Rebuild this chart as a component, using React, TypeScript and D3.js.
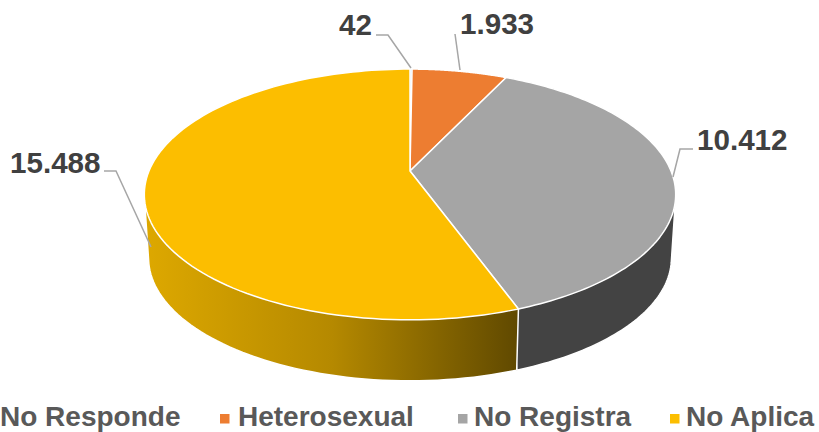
import React from 'react'
import * as d3 from 'd3'

const categories = ['No Responde', 'Heterosexual', 'No Registra', 'No Aplica']
const values = [42, 1933, 10412, 15488]
const valueLabels = ['42', '1.933', '10.412', '15.488']
const colors = ['#5B9BD5', '#ED7D31', '#A5A5A5', '#FCBE00']

const width = 819
const height = 432

// perspective view of the pie disc, fitted to the top face in the picture
const cx = 410
const cy = 171
const rx = 261
const ry = 121
const tilt = 0.187
const depth = 61
const shrink = 0.984

const project = (angle: number): [number, number] => {
  const u = Math.sin(angle)
  const v = -Math.cos(angle)
  const d = 1 - tilt * v
  return [cx + (rx * u) / d, cy + (ry * v) / d]
}

// same point on the lower rim of the disc
const lower = (angle: number): [number, number] => {
  const [x, y] = project(angle)
  return [cx + (x - cx) * shrink, y + depth + (320 - y) * 0.02]
}

const sample = (a0: number, a1: number) => d3.range(0, 121).map(i => a0 + ((a1 - a0) * i) / 120)

const line = d3.line<[number, number]>()

const pieData = d3.pie<number>().sort(null)(values)

const legendX = [-13, 220, 458, 670]
const legendTextX = [0, 238, 474, 686]

const leaders = [
  { x: 339, y: 35, pts: [[376, 35], [388, 35], [411, 68]] },
  { x: 460, y: 34, pts: [[455, 34], [460, 70]] },
  { x: 697, y: 149.5, pts: [[693, 149], [680, 149], [673, 177]] },
  { x: 10, y: 172.5, pts: [[104, 171], [116, 171], [151, 247]] },
]

export default function App() {
  return (
    <svg width={width} height={height} style={{ position: 'absolute', left: 0, top: 0 }} fontFamily="'Liberation Sans', Arial, sans-serif" fontWeight="bold">
      <defs>
        <linearGradient id="sideYellow" gradientUnits="userSpaceOnUse" x1={146} x2={518} y1={0} y2={0}>
          <stop offset="0" stopColor="#DDA800" />
          <stop offset="0.5" stopColor="#B58900" />
          <stop offset="1" stopColor="#604900" />
        </linearGradient>
      </defs>

      {/* sides: the hull also fills the silhouette between the two rims */}
      {pieData.map((d, i) => {
        if (i < 2) return null
        const a = sample(d.startAngle, d.endAngle)
        const hull = d3.polygonHull([...a.map(project), ...a.map(lower)]) as [number, number][]
        return (
          <path
            key={categories[i]}
            d={line(hull) + 'Z'}
            fill={i === 3 ? 'url(#sideYellow)' : '#434343'}
            stroke="#fff"
            strokeWidth={1.5}
            strokeLinejoin="round"
          />
        )
      })}

      {/* top face */}
      {pieData.map((d, i) => {
        const pts: [number, number][] = [[cx, cy], ...sample(d.startAngle, d.endAngle).map(project)]
        return (
          <path
            key={categories[i]}
            d={line(pts) + 'Z'}
            fill={colors[i]}
            stroke="#fff"
            strokeWidth={1.5}
            strokeLinejoin="round"
          />
        )
      })}

      {/* leader lines and value labels */}
      {leaders.map((l, i) => (
        <g key={valueLabels[i]}>
          <path d={line(l.pts as [number, number][]) as string} fill="none" stroke="#A6A6A6" strokeWidth={1.5} />
          <text x={l.x} y={l.y} fontSize={29.6} fill="#404040">
            {valueLabels[i]}
          </text>
        </g>
      ))}

      {/* legend */}
      {categories.map((c, i) => (
        <g key={c}>
          <rect x={legendX[i]} y={414} width={9.5} height={9.5} fill={colors[i]} />
          <text x={legendTextX[i]} y={426} fontSize={28} fill="#595959">
            {c}
          </text>
        </g>
      ))}
    </svg>
  )
}
